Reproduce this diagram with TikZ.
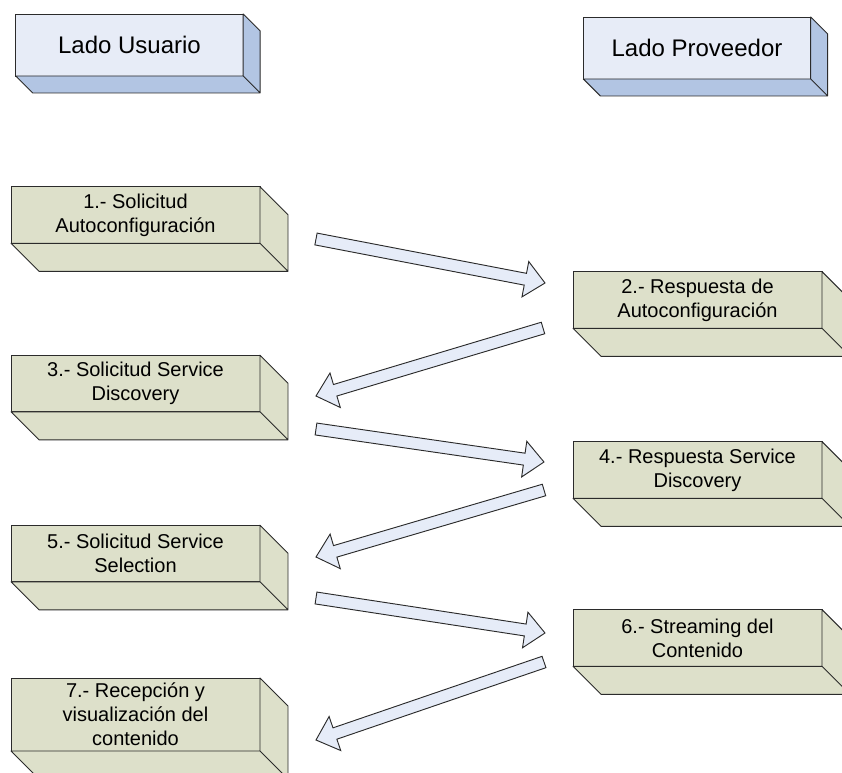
\documentclass[tikz,border=0pt]{standalone}
\usepackage{fontspec}
\setmainfont{Liberation Sans}
\usetikzlibrary{calc}

\definecolor{edge}{HTML}{2B2B2B}
\definecolor{headfront}{HTML}{E7ECF7}
\definecolor{headside}{HTML}{B2C5E3}
\definecolor{stagefill}{HTML}{DDE0CA}
\definecolor{arrowfill}{HTML}{E6ECF8}

\tikzset{
  face/.style={draw=edge, line width=0.7pt, inner sep=0pt, outer sep=0pt,
    align=center, text=black},
  header/.style={face, fill=headfront, font=\fontsize{18}{21}\selectfont,
    minimum width=170.5pt, minimum height=46.5pt},
  stage/.style={face, fill=stagefill, font=\fontsize{15}{18}\selectfont,
    minimum width=186.75pt, minimum height=42.5pt},
  barrow/.style={draw=edge, line width=0.7pt, fill=arrowfill, line join=miter},
}

% right and bottom faces of a slab whose front face is node #1
\newcommand\bevel[3]{%
  \filldraw[fill=#3, draw=edge, line width=0.7pt, line join=round]
    (#1.south west) -- ++(#2,#2) -- ($(#1.south east)+(#2,#2)$)
    -- ($(#1.north east)+(#2,#2)$) -- (#1.north east) -- (#1.south east) -- cycle
    (#1.south east) -- ++(#2,#2);
}

% block arrow from coordinate #1 (tail centre) to coordinate #2 (tip)
\newcommand\blockarrow[2]{%
  \coordinate (#2-neck) at ($(#2)!15pt!(#1)$);
  \draw[barrow]
    ($(#1)!4.5pt!90:(#2)$) -- ($(#2-neck)!4.5pt!90:(#2)$)
    -- ($(#2-neck)!13.5pt!90:(#2)$) -- (#2)
    -- ($(#2-neck)!13.5pt!-90:(#2)$) -- ($(#2-neck)!4.5pt!-90:(#2)$)
    -- ($(#1)!4.5pt!-90:(#2)$) -- cycle;
}

\begin{document}
\begin{tikzpicture}[x=0.75pt, y=-0.75pt]
  \useasboundingbox (0,0) rectangle (842,773);
  \clip (0,0) rectangle (842,773);

  % column headers
  \node[header] (user) at (129.5,45) {Lado Usuario};
  \bevel{user}{17}{headside}
  \node[header] (provider) at (697,48) {Lado Proveedor};
  \bevel{provider}{17}{headside}

  % exchange stages
  \node[stage] (s1) at (135.5,215) {1.- Solicitud\\Autoconfiguración};
  \bevel{s1}{28}{stagefill}
  \node[stage] (s2) at (697.5,300) {2.- Respuesta de\\Autoconfiguración};
  \bevel{s2}{28}{stagefill}
  \node[stage] (s3) at (135.5,383.5) {3.- Solicitud Service\\Discovery};
  \bevel{s3}{28}{stagefill}
  \node[stage] (s4) at (697.5,470) {4.- Respuesta Service\\Discovery};
  \bevel{s4}{28}{stagefill}
  \node[stage] (s5) at (135.5,553.5) {5.- Solicitud Service\\Selection};
  \bevel{s5}{28}{stagefill}
  \node[stage] (s6) at (697.5,638) {6.- Streaming del\\Contenido};
  \bevel{s6}{28}{stagefill}
  \node[stage, minimum height=54.75pt] (s7) at (135.5,714.5)
    {7.- Recepción y\\visualización del\\contenido};
  \bevel{s7}{28}{stagefill}

  % message arrows between the two sides
  \coordinate (a1s) at (316,239);  \coordinate (a1e) at (545,283);
  \coordinate (a2s) at (543,328);  \coordinate (a2e) at (316,396);
  \coordinate (a3s) at (316,429);  \coordinate (a3e) at (544,462);
  \coordinate (a4s) at (544,490);  \coordinate (a4e) at (316,557);
  \coordinate (a5s) at (316,598);  \coordinate (a5e) at (545,633);
  \coordinate (a6s) at (544,662);  \coordinate (a6e) at (316,740);
  \blockarrow{a1s}{a1e}
  \blockarrow{a2s}{a2e}
  \blockarrow{a3s}{a3e}
  \blockarrow{a4s}{a4e}
  \blockarrow{a5s}{a5e}
  \blockarrow{a6s}{a6e}
\end{tikzpicture}
\end{document}
